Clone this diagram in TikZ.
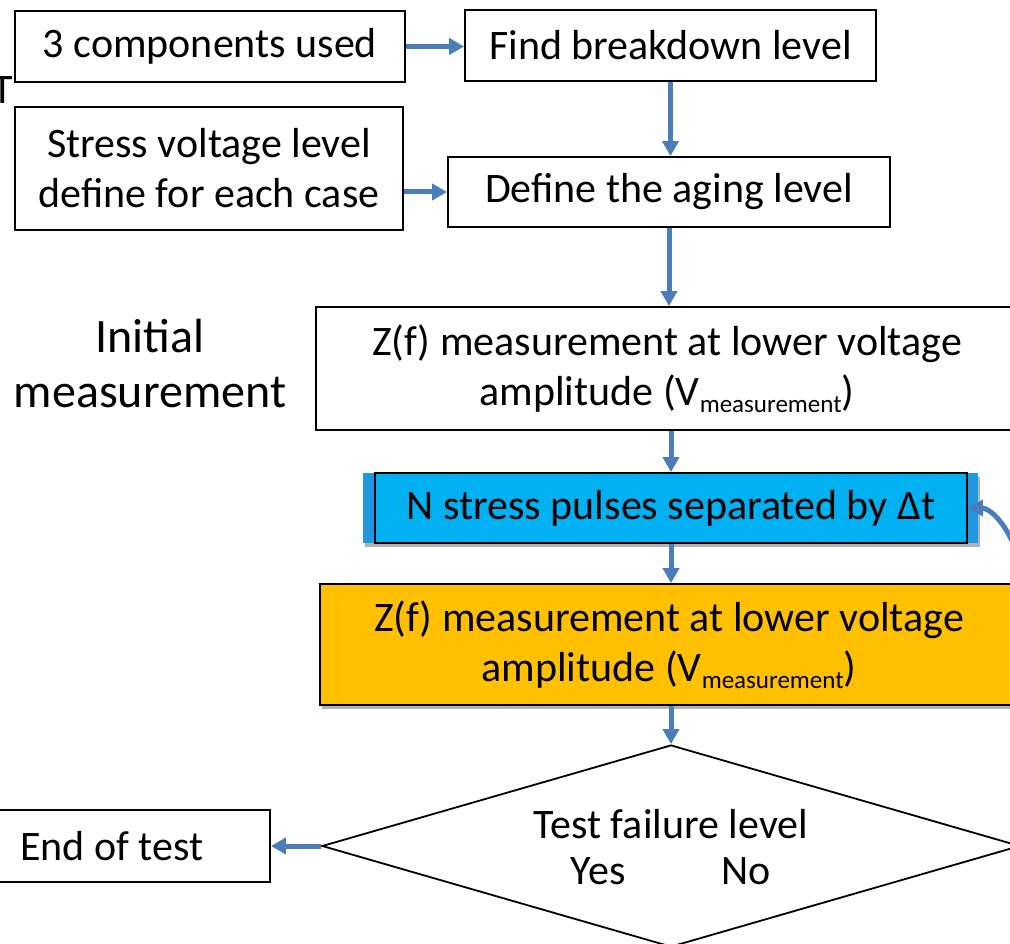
\documentclass[tikz,border=0pt]{standalone}
\usepackage{fontspec}
\setmainfont{Carlito}
\usetikzlibrary{arrows.meta,shapes.geometric,shadows}
\definecolor{arrowblue}{RGB}{74,126,187}
\definecolor{boxblue}{RGB}{0,176,240}
\definecolor{stripblue}{RGB}{30,152,222}
\definecolor{boxorange}{RGB}{255,192,0}
\newcommand\fs{\fontsize{42}{50}\selectfont}
\newcommand\vmeas{(V\raisebox{-7pt}{\fontsize{25}{25}\selectfont measurement})}
\tikzset{
  box/.style={draw=black, line width=1.8pt, inner sep=0pt, align=center, font=\fs},
  txt/.style={inner sep=0pt, align=center, font=\fs},
  arr/.style={draw=arrowblue, line width=5pt, -{Triangle[width=16pt,length=15pt]}},
  shad/.style={drop shadow={shadow xshift=2pt, shadow yshift=-4pt, opacity=0.3, fill=black}}
}
\begin{document}
\begin{tikzpicture}[x=1pt,y=-1pt]
\useasboundingbox (0,0) rectangle (1010,944);
\clip (0,0) rectangle (1010,944);
\fill[white] (0,0) rectangle (1010,944);

\node[txt, anchor=base] (T) at (3,104) {T};

\node[box, minimum width=390, minimum height=71] (A) at (210,46.5) {3 components used};
\node[box, minimum width=411, minimum height=71] (B) at (670.5,45.5) {Find breakdown level};
\node[box, minimum width=388, minimum height=123] (C) at (209,168.5) {Stress voltage level\\define for each case};
\node[box, minimum width=442, minimum height=70] (D) at (669,192) {Define the aging level};
\node[txt, font=\fontsize{48}{55}\selectfont] (init) at (150,364) {Initial\\measurement};
\node[box, minimum width=702, minimum height=123] (E) at (667,368.5) {Z(f) measurement at lower voltage\\amplitude \vmeas};

\fill[stripblue, shad] (363,473) rectangle (978,543);
\node[box, fill=boxblue, minimum width=592, minimum height=70] (F) at (671,508) {N stress pulses separated by Δt};

\node[box, fill=boxorange, shad, minimum width=698, minimum height=121] (G) at (669,644.5) {Z(f) measurement at lower voltage\\amplitude \vmeas};

\node[draw=black, line width=1.8pt, diamond, inner sep=0pt, minimum width=698, minimum height=202] (H) at (671,846) {};
\node[txt, font=\fontsize{42}{46}\selectfont] (Htxt) at (671,847) {Test failure level\\Yes\hspace{96pt}No};

\node[box, minimum width=310, minimum height=72] (I) at (115,846) {\hspace*{-6pt}End of test};

\coordinate (loop) at (1014,545);

\draw[arr] (A.east) -- (A.east -| B.west);
\draw[arr] (C.east |- D.west) -- (D.west);
\draw[arr] (B.south) -- (B.south |- D.north);
\draw[arr] (D.south) -- (D.south |- E.north);
\draw[arr] (F.north |- E.south) -- (F.north);
\draw[arr] (F.south) -- (F.south |- G.north);
\draw[arr] (H.north |- G.south) -- (H.north);
\draw[arr] (H.west) -- (I.east |- H.west);
\draw[arr] (loop) .. controls (1002,518) and (988,508) .. (F.east);
\end{tikzpicture}
\end{document}
